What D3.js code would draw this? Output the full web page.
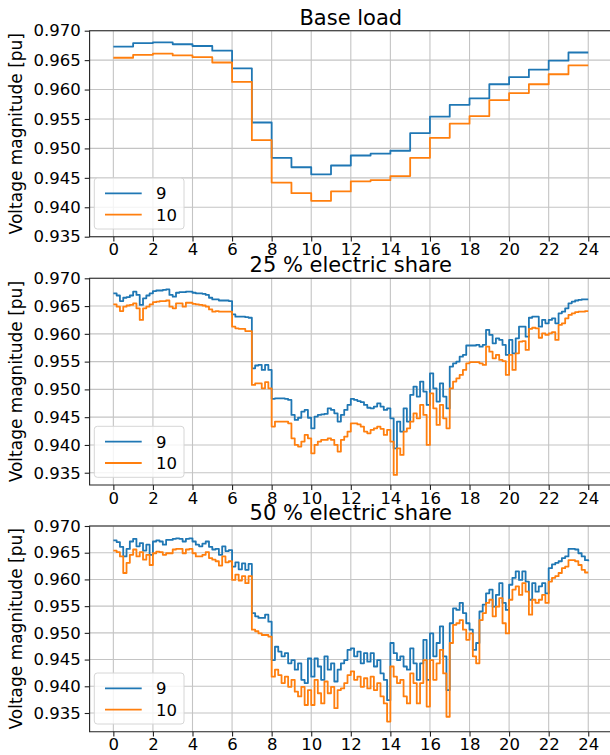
<!DOCTYPE html>
<html>
<head>
<meta charset="utf-8">
<script src="https://cdn.jsdelivr.net/npm/d3@7"></script>
<style>
  body { margin: 0; background: #fff; }
  svg { display: block; font-family: "DejaVu Sans", sans-serif; }
</style>
</head>
<body>
<div id="chart"></div>
<script>
// time grids
var hours = d3.range(0, 25);            // base load: hourly steps
var minutes = d3.range(0, 1441, 10);    // electric share runs: 10 min readings

var xTicks = d3.range(0, 25, 2);
var yTicks = [0.935, 0.940, 0.945, 0.950, 0.955, 0.960, 0.965, 0.970];
var busNames = ["9", "10"];
var titles = ["Base load", "25 % electric share", "50 % electric share"];

// Base load, bus 9 / bus 10 (one value per hour, last repeats the end)
var baseBus9 = [0.9673, 0.9679, 0.9680, 0.9677, 0.9674, 0.9666, 0.9636, 0.9544,
    0.9484, 0.9468, 0.9456, 0.9471, 0.9488, 0.9491, 0.9496, 0.9526, 0.9554,
    0.9574, 0.9585, 0.9609, 0.9621, 0.9634, 0.9649, 0.9663, 0.9663];
var baseBus10 = [0.9654, 0.9659, 0.9661, 0.9658, 0.9655, 0.9646, 0.9613, 0.9514,
    0.9442, 0.9424, 0.9411, 0.9427, 0.9444, 0.9446, 0.9453, 0.9484, 0.9518,
    0.9542, 0.9555, 0.9582, 0.9594, 0.9609, 0.9626, 0.9641, 0.9641];

// 25 % electric share
var share25Bus9 = [
    0.9673, 0.9669, 0.9659, 0.9665, 0.9666, 0.9669,
    0.9676, 0.9670, 0.9652, 0.9664, 0.9669, 0.9673,
    0.9677, 0.9678, 0.9678, 0.9679, 0.9680, 0.9670,
    0.9667, 0.9674, 0.9675, 0.9675, 0.9676, 0.9676,
    0.9674, 0.9673, 0.9673, 0.9672, 0.9670, 0.9665,
    0.9662, 0.9662, 0.9660, 0.9660, 0.9660, 0.9659,
    0.9635, 0.9631, 0.9631, 0.9631, 0.9630, 0.9629,
    0.9538, 0.9543, 0.9544, 0.9535, 0.9544, 0.9535,
    0.9483, 0.9484, 0.9484, 0.9484, 0.9483, 0.9481,
    0.9454, 0.9445, 0.9449, 0.9460, 0.9463, 0.9449,
    0.9430, 0.9451, 0.9454, 0.9455, 0.9456, 0.9466,
    0.9463, 0.9457, 0.9442, 0.9454, 0.9463, 0.9472,
    0.9483, 0.9481, 0.9479, 0.9477, 0.9472, 0.9467,
    0.9466, 0.9469, 0.9475, 0.9469, 0.9463, 0.9466,
    0.9448, 0.9394, 0.9442, 0.9424, 0.9466, 0.9442,
    0.9490, 0.9505, 0.9487, 0.9514, 0.9496, 0.9472,
    0.9529, 0.9502, 0.9478, 0.9511, 0.9487, 0.9466,
    0.9541, 0.9547, 0.9550, 0.9559, 0.9562, 0.9579,
    0.9579, 0.9579, 0.9580, 0.9577, 0.9580, 0.9607,
    0.9598, 0.9583, 0.9592, 0.9589, 0.9580, 0.9562,
    0.9589, 0.9565, 0.9592, 0.9613, 0.9613, 0.9595,
    0.9629, 0.9631, 0.9631, 0.9613, 0.9625, 0.9619,
    0.9625, 0.9628, 0.9619, 0.9637, 0.9640, 0.9646,
    0.9655, 0.9658, 0.9660, 0.9661, 0.9662, 0.9662,
    0.9662];
var share25Bus10 = [
    0.9653, 0.9649, 0.9641, 0.9649, 0.9651, 0.9652,
    0.9655, 0.9646, 0.9625, 0.9646, 0.9649, 0.9653,
    0.9657, 0.9658, 0.9659, 0.9659, 0.9660, 0.9649,
    0.9646, 0.9655, 0.9655, 0.9649, 0.9656, 0.9656,
    0.9654, 0.9653, 0.9652, 0.9651, 0.9649, 0.9644,
    0.9640, 0.9641, 0.9640, 0.9640, 0.9640, 0.9640,
    0.9613, 0.9610, 0.9609, 0.9609, 0.9605, 0.9605,
    0.9508, 0.9511, 0.9511, 0.9502, 0.9513, 0.9502,
    0.9433, 0.9442, 0.9442, 0.9442, 0.9442, 0.9439,
    0.9412, 0.9400, 0.9397, 0.9406, 0.9418, 0.9412,
    0.9385, 0.9400, 0.9406, 0.9409, 0.9409, 0.9412,
    0.9409, 0.9400, 0.9388, 0.9409, 0.9415, 0.9424,
    0.9439, 0.9439, 0.9437, 0.9433, 0.9424, 0.9421,
    0.9427, 0.9430, 0.9433, 0.9429, 0.9418, 0.9427,
    0.9406, 0.9346, 0.9394, 0.9382, 0.9424, 0.9430,
    0.9442, 0.9457, 0.9448, 0.9472, 0.9454, 0.9400,
    0.9493, 0.9466, 0.9436, 0.9472, 0.9448, 0.9430,
    0.9502, 0.9514, 0.9520, 0.9526, 0.9535, 0.9547,
    0.9549, 0.9549, 0.9549, 0.9547, 0.9544, 0.9577,
    0.9568, 0.9556, 0.9562, 0.9553, 0.9551, 0.9526,
    0.9562, 0.9535, 0.9565, 0.9586, 0.9587, 0.9571,
    0.9609, 0.9611, 0.9610, 0.9593, 0.9601, 0.9598,
    0.9601, 0.9603, 0.9589, 0.9616, 0.9619, 0.9628,
    0.9634, 0.9637, 0.9639, 0.9640, 0.9640, 0.9641,
    0.9641];

// 50 % electric share
var share50Bus9 = [
    0.9673, 0.9670, 0.9661, 0.9643, 0.9657, 0.9671,
    0.9676, 0.9662, 0.9668, 0.9654, 0.9665, 0.9646,
    0.9671, 0.9673, 0.9671, 0.9665, 0.9674, 0.9674,
    0.9676, 0.9677, 0.9676, 0.9671, 0.9676, 0.9677,
    0.9671, 0.9665, 0.9662, 0.9667, 0.9671, 0.9661,
    0.9656, 0.9657, 0.9646, 0.9662, 0.9653, 0.9655,
    0.9624, 0.9632, 0.9619, 0.9630, 0.9618, 0.9629,
    0.9537, 0.9531, 0.9528, 0.9528, 0.9534, 0.9521,
    0.9449, 0.9474, 0.9465, 0.9456, 0.9462, 0.9443,
    0.9449, 0.9431, 0.9443, 0.9412, 0.9406, 0.9452,
    0.9418, 0.9452, 0.9437, 0.9412, 0.9456, 0.9431,
    0.9443, 0.9409, 0.9431, 0.9443, 0.9449, 0.9468,
    0.9471, 0.9456, 0.9465, 0.9443, 0.9462, 0.9446,
    0.9462, 0.9437, 0.9449, 0.9424, 0.9412, 0.9374,
    0.9481, 0.9462, 0.9449, 0.9456, 0.9437, 0.9431,
    0.9471, 0.9443, 0.9412, 0.9443, 0.9487, 0.9412,
    0.9499, 0.9456, 0.9481, 0.9512, 0.9456, 0.9393,
    0.9518, 0.9546, 0.9543, 0.9556, 0.9537, 0.9518,
    0.9506, 0.9468, 0.9481, 0.9540, 0.9553, 0.9574,
    0.9581, 0.9549, 0.9571, 0.9593, 0.9556, 0.9543,
    0.9590, 0.9603, 0.9615, 0.9599, 0.9615, 0.9596,
    0.9562, 0.9593, 0.9577, 0.9587, 0.9593, 0.9574,
    0.9621, 0.9628, 0.9631, 0.9634, 0.9640, 0.9643,
    0.9657, 0.9657, 0.9656, 0.9649, 0.9643, 0.9636,
    0.9634];
var share50Bus10 = [
    0.9654, 0.9651, 0.9643, 0.9612, 0.9631, 0.9646,
    0.9656, 0.9643, 0.9651, 0.9637, 0.9646, 0.9627,
    0.9649, 0.9652, 0.9651, 0.9646, 0.9649, 0.9649,
    0.9656, 0.9657, 0.9657, 0.9649, 0.9656, 0.9657,
    0.9649, 0.9643, 0.9643, 0.9646, 0.9651, 0.9640,
    0.9637, 0.9634, 0.9626, 0.9643, 0.9632, 0.9634,
    0.9599, 0.9609, 0.9598, 0.9606, 0.9593, 0.9606,
    0.9506, 0.9503, 0.9499, 0.9496, 0.9496, 0.9493,
    0.9418, 0.9431, 0.9421, 0.9406, 0.9418, 0.9399,
    0.9412, 0.9390, 0.9381, 0.9399, 0.9365, 0.9393,
    0.9365, 0.9412, 0.9387, 0.9368, 0.9409, 0.9387,
    0.9399, 0.9359, 0.9393, 0.9396, 0.9406, 0.9421,
    0.9428, 0.9412, 0.9418, 0.9399, 0.9415, 0.9396,
    0.9418, 0.9393, 0.9406, 0.9381, 0.9368, 0.9334,
    0.9437, 0.9418, 0.9406, 0.9412, 0.9381, 0.9368,
    0.9424, 0.9406, 0.9368, 0.9406, 0.9449, 0.9362,
    0.9449, 0.9412, 0.9443, 0.9468, 0.9424, 0.9343,
    0.9481, 0.9515, 0.9518, 0.9524, 0.9506, 0.9487,
    0.9499, 0.9456, 0.9443, 0.9524, 0.9537, 0.9556,
    0.9562, 0.9531, 0.9549, 0.9565, 0.9518, 0.9499,
    0.9562, 0.9581, 0.9587, 0.9571, 0.9593, 0.9577,
    0.9534, 0.9562, 0.9556, 0.9562, 0.9571, 0.9556,
    0.9596, 0.9603, 0.9606, 0.9612, 0.9621, 0.9624,
    0.9636, 0.9636, 0.9634, 0.9627, 0.9618, 0.9613,
    0.9613];

var width = 610,
    height = 755,
    axLeft = 89.6,
    axRight = 612,
    tickLen = 4.9,
    tickFont = "16.5px",
    colors = ["#1f77b4", "#ff7f0e"],
    gridColor = "#c4c4c4",
    spineColor = "#222";

var panels = [
    { title: titles[0], t: hours, s: [baseBus9, baseBus10], top: 30.7, bottom: 236.7, yMin: 0.935 },
    { title: titles[1], t: minutes.map(m => m / 60), s: [share25Bus9, share25Bus10], top: 278.3, bottom: 485, yMin: 0.93279 },
    { title: titles[2], t: minutes.map(m => m / 60), s: [share50Bus9, share50Bus10], top: 526, bottom: 731.7, yMin: 0.9315 }
];

var svg = d3.select("#chart")
    .append("svg")
    .attr("width", width)
    .attr("height", height);

var x = d3.scaleLinear()
    .domain([-1.2, 25.2])
    .range([axLeft, axRight]);

panels.forEach(function (p, i) {
    var y = d3.scaleLinear()
        .domain([p.yMin, 0.970])
        .range([p.bottom, p.top]);

    var g = svg.append("g");

    g.append("clipPath")
        .attr("id", "clip" + i)
        .append("rect")
        .attr("x", axLeft)
        .attr("y", p.top)
        .attr("width", axRight - axLeft)
        .attr("height", p.bottom - p.top);

    // grid
    g.selectAll(".vg").data(xTicks).join("line")
        .attr("x1", d => x(d)).attr("x2", d => x(d))
        .attr("y1", p.top).attr("y2", p.bottom)
        .style("stroke", gridColor).style("stroke-width", "1.1px");
    g.selectAll(".hg").data(yTicks).join("line")
        .attr("x1", axLeft).attr("x2", axRight)
        .attr("y1", d => y(d)).attr("y2", d => y(d))
        .style("stroke", gridColor).style("stroke-width", "1.1px");

    // series
    var line = d3.line()
        .curve(d3.curveStepAfter)
        .x((d, k) => x(p.t[k]))
        .y(d => y(d));

    p.s.forEach(function (vals, k) {
        g.append("path")
            .datum(vals)
            .attr("d", line)
            .attr("clip-path", "url(#clip" + i + ")")
            .style("fill", "none")
            .style("stroke", colors[k])
            .style("stroke-width", "1.8px")
            .style("stroke-linejoin", "round");
    });

    // axes
    var yAxis = d3.axisLeft(y)
        .tickValues(yTicks)
        .tickFormat(d3.format(".3f"))
        .tickSizeInner(tickLen)
        .tickSizeOuter(0)
        .tickPadding(4);
    var xAxis = d3.axisBottom(x)
        .tickValues(xTicks)
        .tickSizeInner(tickLen)
        .tickSizeOuter(0)
        .tickPadding(2);

    var ya = g.append("g")
        .attr("transform", "translate(" + axLeft + ",0)")
        .call(yAxis);
    var xa = g.append("g")
        .attr("transform", "translate(0," + p.bottom + ")")
        .call(xAxis);

    [ya, xa].forEach(function (a) {
        a.select(".domain").remove();
        a.selectAll(".tick line").style("stroke", spineColor).style("stroke-width", "1.1px");
        a.selectAll(".tick text")
            .style("fill", "#000")
            .style("font-size", tickFont)
            .style("font-family", "DejaVu Sans");
    });

    // spines (left, bottom, top; right one falls outside the picture)
    g.append("path")
        .attr("d", "M" + axRight + "," + p.top + "H" + axLeft + "V" + p.bottom + "H" + axRight)
        .style("fill", "none")
        .style("stroke", spineColor)
        .style("stroke-width", "1.1px");

    // title
    g.append("text")
        .attr("x", (axLeft + axRight) / 2)
        .attr("y", p.top - 6)
        .attr("text-anchor", "middle")
        .style("font-size", "21px")
        .text(p.title);

    // y label
    g.append("text")
        .attr("transform", "translate(22," + (p.top + p.bottom) / 2 + ") rotate(-90)")
        .attr("text-anchor", "middle")
        .style("font-size", "17px")
        .text("Voltage magnitude [pu]");

    // legend
    var lg = g.append("g")
        .attr("transform", "translate(94.3," + (p.bottom - 58.7) + ")");
    lg.append("rect")
        .attr("width", 89.7)
        .attr("height", 51)
        .attr("rx", 3)
        .style("fill", "#fff")
        .style("fill-opacity", 0.8)
        .style("stroke", "#d6d6d6")
        .style("stroke-width", "1px");
    busNames.forEach(function (name, k) {
        var ry = 15.3 + k * 21.4;
        lg.append("line")
            .attr("x1", 10.7).attr("x2", 47.4)
            .attr("y1", ry).attr("y2", ry)
            .style("stroke", colors[k])
            .style("stroke-width", "1.8px");
        lg.append("text")
            .attr("x", 61.7)
            .attr("y", ry)
            .attr("dy", "0.36em")
            .style("font-size", tickFont)
            .text(name);
    });
});
</script>
</body>
</html>
